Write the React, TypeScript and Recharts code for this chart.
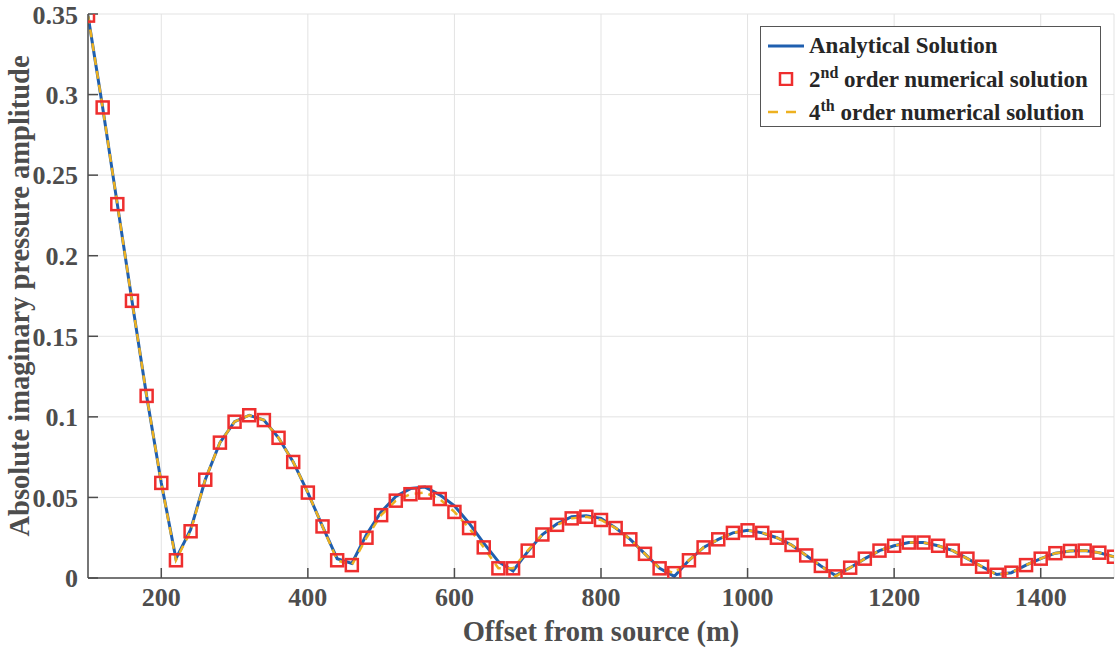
import { ComposedChart, Line, XAxis, YAxis, CartesianGrid, Label } from "recharts"

// offsets in m (every 20 m)
const offsets = [
  100, 120, 140, 160, 180, 200, 220, 240, 260, 280, 300, 320, 340, 360, 380, 400,
  420, 440, 460, 480, 500, 520, 540, 560, 580, 600, 620, 640, 660, 680, 700, 720,
  740, 760, 780, 800, 820, 840, 860, 880, 900, 920, 940, 960, 980, 1000, 1020, 1040,
  1060, 1080, 1100, 1120, 1140, 1160, 1180, 1200, 1220, 1240, 1260, 1280, 1300, 1320,
  1340, 1360, 1380, 1400, 1420, 1440, 1460, 1480, 1500,
]

const analytical = [
  0.349, 0.292, 0.232, 0.172, 0.113, 0.059, 0.012, 0.03, 0.061, 0.084, 0.097, 0.101, 0.098, 0.087, 0.072, 0.053,
  0.032, 0.012, 0.009, 0.027, 0.041, 0.0506, 0.0555, 0.0564, 0.0516, 0.0448, 0.034, 0.0216, 0.0101, 0.0044, 0.0164, 0.027,
  0.0336, 0.038, 0.0387, 0.037, 0.031, 0.024, 0.015, 0.006, 0.001, 0.011, 0.019, 0.024, 0.028, 0.0296, 0.028, 0.025,
  0.0205, 0.014, 0.0075, 0.0015, 0.0064, 0.012, 0.017, 0.02, 0.022, 0.022, 0.02, 0.017, 0.012, 0.007,
  0.0022, 0.0033, 0.008, 0.012, 0.0154, 0.0168, 0.017, 0.0157, 0.0132,
]

const secondOrder = [
  0.349, 0.292, 0.232, 0.172, 0.113, 0.059, 0.011, 0.029, 0.061, 0.084, 0.097, 0.101, 0.098, 0.087, 0.072, 0.053,
  0.032, 0.011, 0.008, 0.025, 0.039, 0.048, 0.052, 0.053, 0.049, 0.041, 0.031, 0.019, 0.006, 0.006, 0.017, 0.027,
  0.033, 0.037, 0.038, 0.036, 0.031, 0.024, 0.015, 0.006, 0.003, 0.011, 0.019, 0.024, 0.028, 0.0296, 0.028, 0.025,
  0.0205, 0.014, 0.0075, 0.001, 0.0064, 0.012, 0.017, 0.02, 0.022, 0.022, 0.02, 0.017, 0.012, 0.007,
  0.002, 0.0033, 0.008, 0.012, 0.0154, 0.0168, 0.017, 0.0157, 0.0132,
]

const fourthOrder = [
  0.349, 0.292, 0.232, 0.172, 0.113, 0.059, 0.011, 0.029, 0.061, 0.084, 0.097, 0.101, 0.098, 0.087, 0.072, 0.053,
  0.032, 0.011, 0.008, 0.025, 0.039, 0.048, 0.052, 0.053, 0.049, 0.041, 0.031, 0.019, 0.006, 0.006, 0.017, 0.027,
  0.033, 0.037, 0.038, 0.036, 0.031, 0.024, 0.015, 0.006, 0.003, 0.011, 0.019, 0.024, 0.028, 0.0296, 0.028, 0.025,
  0.0205, 0.014, 0.0075, 0.001, 0.0064, 0.012, 0.017, 0.02, 0.022, 0.022, 0.02, 0.017, 0.012, 0.007,
  0.002, 0.0033, 0.008, 0.012, 0.0154, 0.0168, 0.017, 0.0157, 0.0132,
]

const xTicks = [200, 400, 600, 800, 1000, 1200, 1400]
const yTicks = [0, 0.05, 0.1, 0.15, 0.2, 0.25, 0.3, 0.35]

const data = offsets.map((x, i) => ({
  x,
  analytical: analytical[i],
  second: secondOrder[i],
  fourth: fourthOrder[i],
}))

const FONT = "'Liberation Serif', 'Times New Roman', serif"
const AXIS = "#4d4d4d"
const BLUE = "#1f5faf"
const RED = "#ee2e2e"
const ORANGE = "#edb120"

const tickStyle = { fill: AXIS, fontSize: 26, fontWeight: "bold", fontFamily: FONT }

function Square(props: any) {
  const { cx, cy, index } = props
  if (cx == null || cy == null) return <g key={index} />
  return (
    <rect key={index} x={cx - 6} y={cy - 6} width={12} height={12} fill="none" stroke={RED} strokeWidth={2.5} />
  )
}

function LegendBox() {
  const row = { display: "flex", alignItems: "center", height: 33 }
  const txt = { marginLeft: 5, whiteSpace: "nowrap" as const }
  return (
    <div
      style={{
        position: "absolute",
        left: 760,
        top: 26,
        border: "1px solid #555",
        background: "#fff",
        fontFamily: FONT,
        fontWeight: "bold",
        fontSize: 23,
        color: "#262626",
        padding: "2px 7px",
        width: 341,
        height: 101,
        boxSizing: "border-box",
      }}
    >
      <div style={row}>
        <svg width={36} height={10}>
          <line x1={0} y1={5} x2={36} y2={5} stroke={BLUE} strokeWidth={3} />
        </svg>
        <span style={txt}>Analytical Solution</span>
      </div>
      <div style={row}>
        <svg width={36} height={14}>
          <rect x={12} y={1} width={12} height={12} fill="none" stroke={RED} strokeWidth={2.5} />
        </svg>
        <span style={txt}>
          2<sup style={{ fontSize: 16 }}>nd</sup> order numerical solution
        </span>
      </div>
      <div style={row}>
        <svg width={36} height={10}>
          <line x1={0} y1={5} x2={36} y2={5} stroke={ORANGE} strokeWidth={2.5} strokeDasharray="10 8" />
        </svg>
        <span style={txt}>
          4<sup style={{ fontSize: 16 }}>th</sup> order numerical solution
        </span>
      </div>
    </div>
  )
}

export default function App() {
  return (
    <div style={{ position: "absolute", left: 0, top: 0, width: 1115, height: 649, background: "#fff" }}>
      <ComposedChart width={1115} height={649} data={data} margin={{ top: 14, right: 1, bottom: 0, left: 0 }}>
        <CartesianGrid stroke="#e3e3e3" strokeWidth={1} />
        <XAxis
          dataKey="x"
          type="number"
          domain={[100, 1500]}
          ticks={xTicks}
          allowDataOverflow
          height={71}
          stroke={AXIS}
          strokeWidth={1.5}
          tickSize={-10}
          tickMargin={20}
          tick={tickStyle}
        >
          <Label
            content={() => (
              <text x={601} y={641} textAnchor="middle" fill={AXIS} fontSize={28.5} fontWeight="bold" fontFamily={FONT}>
                Offset from source (m)
              </text>
            )}
          />
        </XAxis>
        <XAxis
          xAxisId="top"
          orientation="top"
          dataKey="x"
          type="number"
          domain={[100, 1500]}
          ticks={xTicks}
          height={0}
          stroke={AXIS}
          strokeWidth={1.5}
          tickSize={-10}
          tickFormatter={() => ""}
        />
        <YAxis
          type="number"
          domain={[0, 0.35]}
          ticks={yTicks}
          allowDataOverflow
          width={88}
          stroke={AXIS}
          strokeWidth={1.5}
          tickSize={-10}
          tickMargin={20}
          tick={tickStyle}
          tickFormatter={(v) => String(v)}
        >
          <Label
            content={() => (
              <text
                x={29}
                y={296}
                transform="rotate(-90, 29, 296)"
                textAnchor="middle"
                fill={AXIS}
                fontSize={28.5}
                fontWeight="bold"
                fontFamily={FONT}
              >
                Absolute imaginary pressure amplitude
              </text>
            )}
          />
        </YAxis>
        <YAxis
          yAxisId="right"
          orientation="right"
          type="number"
          domain={[0, 0.35]}
          ticks={yTicks}
          width={0}
          stroke={AXIS}
          strokeWidth={1.5}
          tickSize={-10}
          tickFormatter={() => ""}
        />
        <Line
          dataKey="analytical"
          type="linear"
          stroke={BLUE}
          strokeWidth={3}
          dot={false}
          activeDot={false}
          isAnimationActive={false}
        />
        <Line
          dataKey="second"
          type="linear"
          stroke="none"
          strokeWidth={0}
          dot={Square}
          activeDot={false}
          isAnimationActive={false}
        />
        <Line
          dataKey="fourth"
          type="linear"
          stroke={ORANGE}
          strokeWidth={2.5}
          strokeDasharray="8 6"
          dot={false}
          activeDot={false}
          isAnimationActive={false}
        />
      </ComposedChart>
      <LegendBox />
    </div>
  )
}
